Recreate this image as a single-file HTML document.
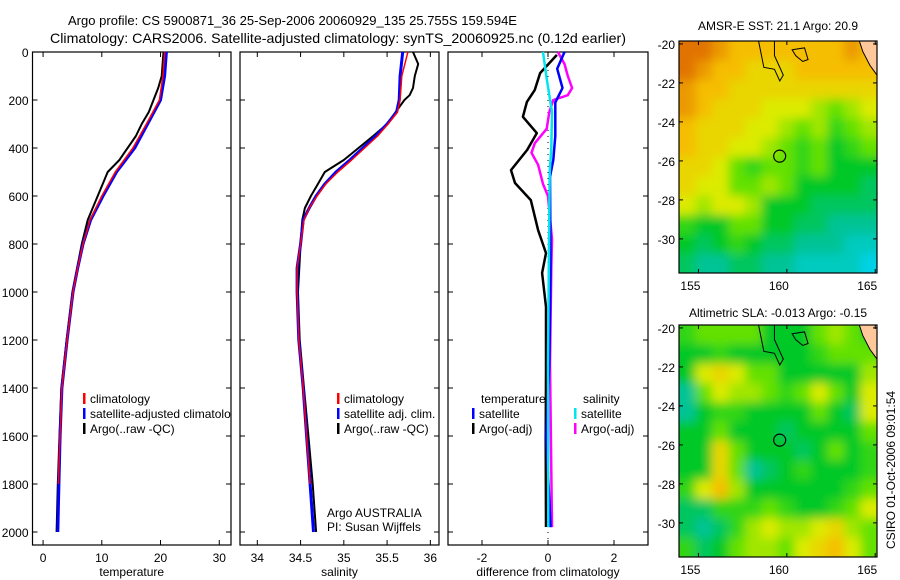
<!DOCTYPE html>
<html><head><meta charset="utf-8"><style>
body{margin:0;background:#fff;}
svg{display:block;font-family:"Liberation Sans",sans-serif;}
</style></head><body>
<svg id="fig" width="900" height="580" viewBox="0 0 900 580" xmlns="http://www.w3.org/2000/svg">
<defs>
<filter id="blur" x="-10%" y="-10%" width="120%" height="120%"><feGaussianBlur stdDeviation="5"/></filter>
<clipPath id="clip1"><rect x="679" y="41" width="198" height="232"/></clipPath>
<clipPath id="clip2"><rect x="679" y="325" width="198" height="232"/></clipPath>
<clipPath id="clipP1"><rect x="0" y="0" width="231" height="580"/></clipPath>
</defs>
<rect width="900" height="580" fill="#fff"/>
<text x="68" y="25" font-size="13.2" textLength="449" lengthAdjust="spacingAndGlyphs">Argo profile: CS 5900871_36 25-Sep-2006 20060929_135 25.755S 159.594E</text>
<text x="50" y="43" font-size="13.8" textLength="576" lengthAdjust="spacingAndGlyphs">Climatology: CARS2006. Satellite-adjusted climatology: synTS_20060925.nc (0.12d earlier)</text>
<text x="778" y="30" font-size="12" text-anchor="middle">AMSR-E SST: 21.1 Argo: 20.9</text>
<text x="778" y="317" font-size="12" text-anchor="middle">Altimetric SLA: -0.013 Argo: -0.15</text>
<text transform="translate(895,470) rotate(-90)" font-size="12" text-anchor="middle">CSIRO 01-Oct-2006 09:01:54</text>
<text x="327" y="517" font-size="12">Argo AUSTRALIA</text>
<text x="327" y="531" font-size="12">PI: Susan Wijffels</text>
<g id="plots"></g>
</svg>
<script>
// ---- profile data ----
const depthTicks=[0,200,400,600,800,1000,1200,1400,1600,1800,2000];
const tempTicks=[0,10,20,30];
const salTicks=[34,34.5,35,35.5,36];
const diffTicks=[-2,0,2];
const tempClimDepth=[0,100,200,300,400,500,600,700,800,900,1000,1200,1400,1600,1800];
const tempClim=[20.7,20.4,19.8,17.6,15.3,12.3,10.0,8.0,6.8,5.9,5.1,4.1,3.2,2.9,2.6];
const tempSatDepth=[0,100,200,300,400,500,600,700,800,900,1000,1200,1400,1600,1800,2000];
const tempSat=[21.0,20.7,20.0,17.8,15.6,12.5,10.2,8.1,6.8,5.9,5.1,4.1,3.2,2.9,2.7,2.5];
const tempArgoDepth=[0,100,150,200,250,300,350,400,450,500,600,700,800,900,1000,1200,1400,1600,1800,2000];
const tempArgo=[20.5,20.2,19.6,18.8,18.0,16.8,15.8,14.4,13.0,11.0,9.3,7.6,6.6,5.8,5.0,4.0,3.1,2.8,2.5,2.3];
const salClimDepth=[0,100,200,250,300,350,400,450,500,550,600,650,700,800,900,1000,1200,1400,1600,1800];
const salClim=[35.74,35.67,35.65,35.62,35.51,35.39,35.24,35.09,34.93,34.79,34.69,34.6,34.54,34.5,34.46,34.46,34.48,34.53,34.57,34.61];
const salSatDepth=[0,100,200,250,300,350,400,450,500,550,600,650,700,800,900,1000,1200,1400,1600,1800,2000];
const salSat=[35.68,35.65,35.64,35.61,35.5,35.37,35.22,35.07,34.91,34.78,34.68,34.6,34.53,34.5,34.46,34.46,34.48,34.53,34.57,34.61,34.65];
const salArgoDepth=[0,50,100,150,180,200,250,300,350,400,450,500,550,600,650,700,800,1000,1200,1400,1600,1800,2000];
const salArgo=[35.8,35.86,35.82,35.8,35.76,35.7,35.6,35.5,35.34,35.17,35.0,34.78,34.7,34.62,34.55,34.52,34.5,34.47,34.49,34.54,34.59,34.64,34.68];
const dTempArgoDepth=[12,88,158,208,270,338,408,492,546,617,742,838,921,1062,1338,1617,1979];
const dTempArgo=[0.27,-0.24,-0.4,-0.64,-0.76,-0.34,-0.63,-1.12,-1.0,-0.52,-0.3,-0.06,-0.18,-0.06,-0.06,-0.07,-0.06];
const dTempSatDepth=[0,70,150,210,350,450,520,900,1300,1600,1980];
const dTempSat=[0.5,0.28,0.44,0.22,0.22,0.16,0.06,0.08,0.04,-0.05,0.08];
const dSalArgoDepth=[0,50,100,150,180,200,250,320,380,420,470,550,600,780,900,1300,1980];
const dSalArgo=[0.3,0.5,0.6,0.73,0.6,0.16,0.04,-0.04,-0.4,-0.5,-0.3,-0.15,0.0,0.12,0.1,0.06,0.12];
const dSalSatDepth=[0,100,250,400,500,800,1300,1980];
const dSalSat=[-0.15,-0.05,0.12,0.1,0.05,0.03,0.0,0.01];
// ---- map data (values on 0..6 colour scale, rows north->south, cols west->east) ----
const lonTicks=[155,160,165];
const latTicks=[-20,-22,-24,-26,-28,-30];
const sstGrid=[
[6,6,5.5,5,5,5,5,5,5,5,5.5,5],
[6,5.5,5,5,4.5,4.5,4.5,5,5,5,5,5],
[5.5,5,5,4.5,4.5,4.5,4.5,4.5,4.5,4.5,4.5,4.5],
[5.5,5,4.5,4.5,4.5,4,4,4,3.5,3,3.5,4],
[5,4.5,4.5,4.5,4,4,3.5,3,3.5,2.5,3,3.5],
[5,4.5,4.5,4,4,3.5,3,2.5,3,2,2.5,3],
[4.5,4.5,4,3,2.5,3,3,2.5,3,2,2,2],
[4.5,4,4,3,3,3.5,3,2,2,2,2,1.5],
[4,3.5,4,4,3.5,2,2,2,1.5,1.5,1.5,1.5],
[2.5,2,2,3,3,2,2,1.5,1.5,1,1,1],
[2,1.5,2,2.5,2,1.5,1.5,1,1,1,0.5,0.5],
[1.5,1,1,1.5,1.5,1,1,0.5,0.5,0.5,0.5,0]];
const slaGrid=[
[2.5,3,3,3,3,2,2,2,3,3.5,3,2.5],
[2,2,2.5,2,2,2,2,2,2.5,3,3,3],
[2,4,4.5,4,3,3,2,2,2,2,2,3.5],
[1,3,4,3.5,3.5,3,2.5,3,4,3,2,4],
[1,2,2.5,2.5,2,2,2,2,3,2,1.5,4],
[2,2,3,2,2,2,1.5,2,2,2,2,3],
[2,2,4.5,3,2,2,2,1.5,2,3,2,2.5],
[2,2,4.5,3,1,1.5,2,2.5,2,2,2,2.5],
[2.5,4,5,3.5,2,2,2,2,2,2,2.5,3],
[1.5,1.5,2.5,2.5,2.5,3,2.5,2,2,2.5,3,4],
[1.5,1,1.5,2.5,3.5,4,3.5,3.5,4,4.5,3.5,3],
[2.5,1.5,2,3,3.5,3.5,3,4,4.5,5,4,3]];
const argoLon=159.594, argoLat=-25.755;

const NS="http://www.w3.org/2000/svg";
const root=document.getElementById('plots');
function mk(tag,attrs,parent){const e=document.createElementNS(NS,tag);for(const k in attrs)e.setAttribute(k,attrs[k]);(parent||root).appendChild(e);return e;}

const Y0=52,Y1=545;
function yD(d){return Y0+d*0.24;}
function panel(name,x0,x1,v0,v1,xt,label,showY){
  const g=mk('g',{});
  
  
  const sx=v=>x0+(v-v0)/(v1-v0)*(x1-x0);
  const fr=mk('rect',{x:x0,y:Y0,width:x1-x0,height:Y1-Y0,fill:'none',stroke:'#000','stroke-width':1.2},g);
  
  
  xt.forEach(v=>{const x=sx(v);
    mk('line',{x1:x,y1:Y0,x2:x,y2:Y0+5,stroke:'#000'},g);
    mk('line',{x1:x,y1:Y1,x2:x,y2:Y1-5,stroke:'#000'},g);
    const t=mk('text',{x:x,y:Y1+17,'font-size':12,'text-anchor':'middle'},g);t.textContent=v;
    
    
  });
  depthTicks.forEach(d=>{const y=yD(d);
    mk('line',{x1:x0,y1:y,x2:x0+5,y2:y,stroke:'#000'},g);
    mk('line',{x1:x1,y1:y,x2:x1-5,y2:y,stroke:'#000'},g);
    if(showY){const t=mk('text',{x:x0-4,y:y+5,'font-size':12,'text-anchor':'end'},g);t.textContent=d;
      
      }
  });
  const t=mk('text',{x:(x0+x1)/2,y:Y1+31,'font-size':12,'text-anchor':'middle'},g);t.textContent=label;
  
  
  return {g,sx};
}
function line(p,deps,vals,color,w,name){
  const pts=deps.map((d,i)=>p.sx(vals[i]).toFixed(1)+','+yD(d).toFixed(1)).join(' ');
  const e=mk('polyline',{points:pts,fill:'none',stroke:color,'stroke-width':w,'stroke-linejoin':'round'},p.g);
  
  
}
function legend(g,x,y,color,text,name){
  if(color){mk('rect',{x:x,y:y-10,width:2.5,height:11,fill:color},g);}
  const t=mk('text',{x:x+7,y:y,'font-size':12},g);t.textContent=text;
  
  
}
const p1=panel('temperature-panel',32.5,231,-1.8,32,tempTicks,'temperature',true);
line(p1,tempArgoDepth,tempArgo,'#000',2,'temp-argo-line');
line(p1,tempSatDepth,tempSat,'#0000ff',3,'temp-satellite-line');
line(p1,tempClimDepth,tempClim,'#ff0000',1.5,'temp-climatology-line');
const lg1=mk('g',{'clip-path':'url(#clipP1)'},p1.g);
legend(lg1,83,403,'#ff0000','climatology','legend-climatology');
legend(lg1,83,418,'#0000ff','satellite-adjusted climatology','legend-satellite');
legend(lg1,83,433,'#000','Argo(..raw -QC)','legend-argo');

const p2=panel('salinity-panel',240,439,33.8,36.1,salTicks,'salinity',false);
line(p2,salArgoDepth,salArgo,'#000',2,'sal-argo-line');
line(p2,salSatDepth,salSat,'#0000ff',3,'sal-satellite-line');
line(p2,salClimDepth,salClim,'#ff0000',1.5,'sal-climatology-line');
legend(p2.g,337,403,'#ff0000','climatology','legend2-climatology');
legend(p2.g,337,418,'#0000ff','satellite adj. clim.','legend2-satellite');
legend(p2.g,337,433,'#000','Argo(..raw -QC)','legend2-argo');

const p3=panel('difference-panel',448,648,-3.03,3.03,diffTicks,'difference from climatology',false);
const zx=p3.sx(0);
const zl=mk('line',{x1:zx,y1:Y0,x2:zx,y2:Y1,stroke:'#000','stroke-width':1,'stroke-dasharray':'1,5'},p3.g);


line(p3,dTempArgoDepth,dTempArgo,'#000',2.5,'diff-temp-argo-line');
line(p3,dSalArgoDepth,dSalArgo,'#ff00ff',2.5,'diff-sal-argo-line');
line(p3,dTempSatDepth,dTempSat,'#0000ff',2.5,'diff-temp-satellite-line');
line(p3,dSalSatDepth,dSalSat,'#00e5ee',2.5,'diff-sal-satellite-line');
legend(p3.g,474,403,null,'temperature','legend3-temperature');
legend(p3.g,472,418,'#0000ff','satellite','legend3-temp-satellite');
legend(p3.g,472,433,'#000','Argo(-adj)','legend3-temp-argo');
legend(p3.g,576,403,null,'salinity','legend3-salinity');
legend(p3.g,574,418,'#00e5ee','satellite','legend3-sal-satellite');
legend(p3.g,574,433,'#ff00ff','Argo(-adj)','legend3-sal-argo');

// ---- maps ----
const stops=[[0,210,230],[0,195,150],[0,200,40],[100,225,0],[220,235,0],[245,190,0],[225,115,0]];
function cmap(v){const i=Math.max(0,Math.min(5,Math.floor(v)));const f=Math.min(1,v-i);
  const a=stops[i],b=stops[i+1];return 'rgb('+a.map((c,k)=>Math.round(c+(b[k]-c)*f)).join(',')+')';}
function map(name,grid,top,bottom,clip){
  const L=679,R=877,lon0=153.9,lon1=165.1,lat0=-19.85,lat1=-31.75;
  const sx=lo=>L+(lo-lon0)/(lon1-lon0)*(R-L);
  const sy=la=>top+(la-lat0)/(lat1-lat0)*(bottom-top);
  const g=mk('g',{});
  
  
  const cg=mk('g',{'clip-path':'url(#'+clip+')'},g);
  const bg=mk('g',{filter:'url(#blur)'},cg);
  const rows=grid.length,cols=grid[0].length;
  const cw=(R-L)/cols,ch=(bottom-top)/rows,pad=20;
  grid.forEach((row,r)=>row.forEach((v,c)=>{
    let x=L+c*cw,y=top+r*ch,w=cw+0.6,h=ch+0.6;
    if(c===0){x-=pad;w+=pad;} if(c===cols-1){w+=pad;}
    if(r===0){y-=pad;h+=pad;} if(r===rows-1){h+=pad;}
    const e=mk('rect',{x:x.toFixed(1),y:y.toFixed(1),width:w.toFixed(1),height:h.toFixed(1),fill:cmap(v)},bg);
    
    
  }));
  const c1=mk('path',{d:`M${sx(158.4)},${top} L${sx(158.7)},${sy(-21.2)} L${sx(159.3)},${sy(-21.3)} L${sx(159.6)},${sy(-21.9)} L${sx(159.8)},${sy(-21.6)} L${sx(159.3)},${sy(-20.6)} L${sx(159.3)},${top}`,fill:'none',stroke:'#000','stroke-width':1},cg);
  
  
  const c2=mk('path',{d:`M${sx(160.3)},${sy(-20.3)} L${sx(161.0)},${sy(-20.2)} L${sx(161.2)},${sy(-20.8)} L${sx(160.9)},${sy(-20.9)} L${sx(160.5)},${sy(-20.6)} Z`,fill:'none',stroke:'#000','stroke-width':1},cg);
  
  
  const land=mk('path',{d:`M${sx(164.1)},${top} L${R},${top} L${R},${sy(-21.6)} L${sx(164.7)},${sy(-21.1)} L${sx(164.3)},${sy(-20.4)} Z`,fill:'#ffc89b',stroke:'#000','stroke-width':1},cg);
  
  
  const circ=mk('circle',{cx:sx(argoLon),cy:sy(argoLat),r:6,fill:'none',stroke:'#000','stroke-width':1.2},g);
  
  
  const fr=mk('rect',{x:L,y:top,width:R-L,height:bottom-top,fill:'none',stroke:'#000','stroke-width':1.2},g);
  
  
  lonTicks.forEach(lo=>{const x=sx(lo);
    mk('line',{x1:x,y1:top,x2:x,y2:top+4,stroke:'#000'},g);
    mk('line',{x1:x,y1:bottom,x2:x,y2:bottom-4,stroke:'#000'},g);
    const t=mk('text',{x:x-8,y:bottom+17,'font-size':12,'text-anchor':'middle'},g);t.textContent=lo;
    
    });
  latTicks.forEach(la=>{const y=sy(la);
    mk('line',{x1:L,y1:y,x2:L+4,y2:y,stroke:'#000'},g);
    mk('line',{x1:R,y1:y,x2:R-4,y2:y,stroke:'#000'},g);
    const t=mk('text',{x:L-4,y:y+5,'font-size':12,'text-anchor':'end'},g);t.textContent=la;
    
    });
}
map('sst-map',sstGrid,41,273,'clip1');
map('sla-map',slaGrid,325,557,'clip2');
</script>
</body></html>
